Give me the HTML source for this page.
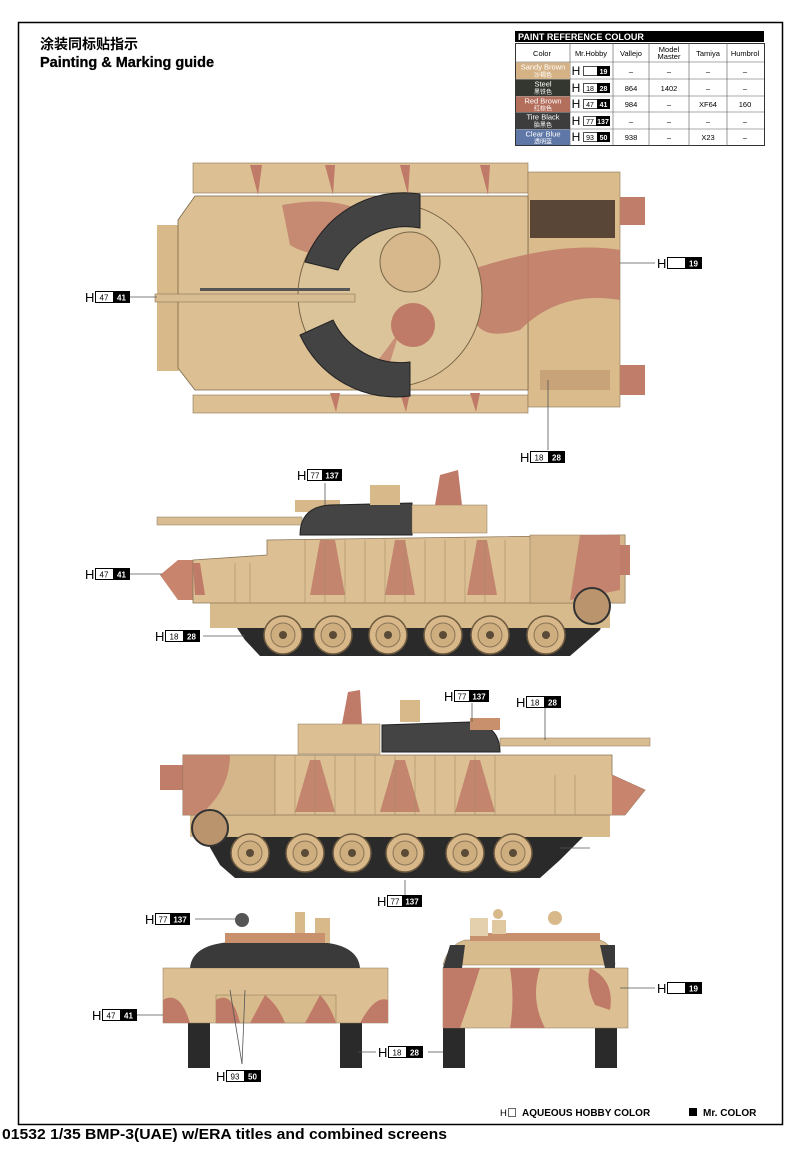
<!DOCTYPE html>
<html><head><meta charset="utf-8"><style>
body{margin:0;background:#fff;width:800px;height:1145px;overflow:hidden;font-family:"Liberation Sans","Noto Sans CJK SC",sans-serif}
svg text{font-family:"Liberation Sans","Noto Sans CJK SC",sans-serif}
</style></head><body>
<svg width="800" height="1145" viewBox="0 0 800 1145" xmlns="http://www.w3.org/2000/svg">
<defs>
<g id="whl"><circle r="19" fill="#d8b888" stroke="#6d5a40" stroke-width="1.5"/><circle r="12" fill="#ceae7e" stroke="#8a7458"/><circle r="4" fill="#5a4a38"/></g>
</defs>
<rect x="18.5" y="22.5" width="764" height="1102" fill="none" stroke="#000" stroke-width="1.5"/>
<text x="40" y="49" font-size="14" font-weight="bold">涂装同标贴指示</text>
<text x="40" y="67" font-size="14.5" font-weight="bold" stroke="#000" stroke-width=".3">Painting &amp; Marking guide</text>

<!-- table -->
<g font-size="7.5" text-anchor="middle">
<rect x="515" y="31" width="249" height="11" fill="#000"/>
<text x="518" y="40" font-size="9" font-weight="bold" fill="#fff" text-anchor="start">PAINT  REFERENCE COLOUR</text>
<rect x="515.5" y="43.5" width="249" height="102" fill="#fff" stroke="#333"/>
<g stroke="#555" stroke-width=".6">
<line x1="570" y1="43" x2="570" y2="146"/><line x1="613" y1="43" x2="613" y2="146"/><line x1="649" y1="43" x2="649" y2="146"/><line x1="689" y1="43" x2="689" y2="146"/><line x1="727" y1="43" x2="727" y2="146"/>
<line x1="515" y1="62" x2="764" y2="62"/><line x1="515" y1="79" x2="764" y2="79"/><line x1="515" y1="96" x2="764" y2="96"/><line x1="515" y1="112" x2="764" y2="112"/><line x1="515" y1="129" x2="764" y2="129"/>
</g>
<text x="542" y="56">Color</text><text x="591" y="56">Mr.Hobby</text><text x="631" y="56">Vallejo</text><text x="669" y="52">Model</text><text x="669" y="59">Master</text><text x="708" y="56">Tamiya</text><text x="745" y="56">Humbrol</text>
<rect x="516" y="62.5" width="54" height="16.5" fill="#d5b286"/><text x="543" y="69.5" fill="#fff">Sandy Brown</text><text x="543" y="77" font-size="6" fill="#fff">沙褐色</text>
<rect x="516" y="79.5" width="54" height="16.5" fill="#34372f"/><text x="543" y="86.5" fill="#fff">Steel</text><text x="543" y="94" font-size="6" fill="#fff">黑铁色</text>
<rect x="516" y="96.5" width="54" height="15.5" fill="#b36e5c"/><text x="543" y="103.5" fill="#fff">Red Brown</text><text x="543" y="110.5" font-size="6" fill="#fff">红棕色</text>
<rect x="516" y="112.5" width="54" height="16.5" fill="#3d3d3d"/><text x="543" y="119.5" fill="#fff">Tire Black</text><text x="543" y="127" font-size="6" fill="#fff">胎黑色</text>
<rect x="516" y="129.5" width="54" height="15.5" fill="#5e77a6"/><text x="543" y="136.5" fill="#fff">Clear Blue</text><text x="543" y="143.5" font-size="6" fill="#fff">透明蓝</text>
<text x="631" y="91">864</text><text x="669" y="91">1402</text><text x="708" y="91">–</text><text x="745" y="91">–</text>
<text x="631" y="107">984</text><text x="669" y="107">–</text><text x="708" y="107">XF64</text><text x="745" y="107">160</text>
<text x="631" y="74">–</text><text x="669" y="74">–</text><text x="708" y="74">–</text><text x="745" y="74">–</text>
<text x="631" y="124">–</text><text x="669" y="124">–</text><text x="708" y="124">–</text><text x="745" y="124">–</text>
<text x="631" y="140">938</text><text x="669" y="140">–</text><text x="708" y="140">X23</text><text x="745" y="140">–</text>
<!-- Mr.Hobby cells -->
<g transform="translate(572,65)"><text x="4" y="10" font-size="12">H</text><rect x="11.5" y="1.5" width="26" height="9" fill="#fff" stroke="#000" stroke-width=".7"/><rect x="25" y="1" width="13" height="10" fill="#000"/><text x="31.5" y="9" font-size="7" fill="#fff" font-weight="bold">19</text></g>
<g transform="translate(572,82)"><text x="4" y="10" font-size="12">H</text><rect x="11.5" y="1.5" width="26" height="9" fill="#fff" stroke="#000" stroke-width=".7"/><rect x="25" y="1" width="13" height="10" fill="#000"/><text x="18" y="9" font-size="7">18</text><text x="31.5" y="9" font-size="7" fill="#fff" font-weight="bold">28</text></g>
<g transform="translate(572,98)"><text x="4" y="10" font-size="12">H</text><rect x="11.5" y="1.5" width="26" height="9" fill="#fff" stroke="#000" stroke-width=".7"/><rect x="25" y="1" width="13" height="10" fill="#000"/><text x="18" y="9" font-size="7">47</text><text x="31.5" y="9" font-size="7" fill="#fff" font-weight="bold">41</text></g>
<g transform="translate(572,115)"><text x="4" y="10" font-size="12">H</text><rect x="11.5" y="1.5" width="26" height="9" fill="#fff" stroke="#000" stroke-width=".7"/><rect x="24" y="1" width="14" height="10" fill="#000"/><text x="18" y="9" font-size="7">77</text><text x="31" y="9" font-size="7" fill="#fff" font-weight="bold">137</text></g>
<g transform="translate(572,131)"><text x="4" y="10" font-size="12">H</text><rect x="11.5" y="1.5" width="26" height="9" fill="#fff" stroke="#000" stroke-width=".7"/><rect x="25" y="1" width="13" height="10" fill="#000"/><text x="18" y="9" font-size="7">93</text><text x="31.5" y="9" font-size="7" fill="#fff" font-weight="bold">50</text></g>
</g>

<!-- TOP VIEW -->
<g>
<rect x="193" y="163" width="335" height="30" fill="#dcbf92" stroke="#8a7458" stroke-width=".6"/>
<rect x="193" y="395" width="335" height="18" fill="#dcbf92" stroke="#8a7458" stroke-width=".6"/>
<rect x="528" y="172" width="92" height="235" fill="#d9bb8c" stroke="#8a7458" stroke-width=".6"/>
<rect x="157" y="225" width="22" height="146" fill="#d8b98a"/>
<polygon points="178,220 195,196 528,196 528,390 195,390 178,368" fill="#dcc094" stroke="#7a6648" stroke-width=".8"/>
<rect x="620" y="197" width="25" height="28" fill="#c07e6a"/><rect x="620" y="365" width="25" height="30" fill="#c07e6a"/>
<rect x="530" y="200" width="85" height="38" fill="#5a4636"/>
<path d="M282,205 Q330,196 360,210 L350,260 Q305,255 290,245Z" fill="#c07a68" opacity=".8"/>
<path d="M470,270 Q560,240 620,250 L620,300 Q560,290 520,330 Q470,345 470,300Z" fill="#c07a68" opacity=".85"/>
<path d="M250,165 L262,165 L258,195Z M325,165 L335,165 L333,195Z M400,165 L410,165 L408,195Z M480,165 L490,165 L488,195Z" fill="#c07a68"/>
<path d="M330,393 L340,393 L336,412Z M400,393 L410,393 L406,412Z M470,393 L480,393 L476,412Z" fill="#c07a68"/>
<circle cx="390" cy="295" r="92" fill="#dcc49a" stroke="#7a6648"/>
<circle cx="410" cy="262" r="30" fill="#d6b88c" stroke="#7a6648"/>
<circle cx="413" cy="325" r="22" fill="#c07a68"/>
<path d="M390,295 L400,330 Q380,360 360,380 L380,395 L400,330Z" fill="#c07a68" opacity=".7"/>
<path d="M305,262 A105,105 0 0 1 420,194 L420,228 A75,75 0 0 0 338,270Z" fill="#434343" stroke="#222"/>
<path d="M300,335 A105,105 0 0 0 410,396 L410,362 A75,75 0 0 1 333,320Z" fill="#434343" stroke="#222"/>
<rect x="155" y="294" width="200" height="8" fill="#d8bd92" stroke="#8a7458" stroke-width=".6"/>
<rect x="200" y="288" width="150" height="3" fill="#555"/>
<rect x="540" y="370" width="70" height="20" fill="#c8a37a"/>
</g>

<!-- SIDE VIEW 1 -->
<g>
<path d="M225,610 L245,640 L260,656 L570,656 L600,630 L610,600 L225,600Z" fill="#2a2a2a"/>
<rect x="210" y="598" width="400" height="30" fill="#d8bb8c"/>
<polygon points="160,575 178,560 195,560 195,600 178,600" fill="#c8846d"/>
<polygon points="193,560 267,555 267,540 625,535 625,603 193,603" fill="#dcc094" stroke="#8a7458" stroke-width=".8"/>
<rect x="530" y="535" width="95" height="68" fill="#d5b68a" stroke="#8a7458" stroke-width=".5"/>
<rect x="620" y="545" width="10" height="30" fill="#c07e6a"/>
<path d="M320,540 L335,540 L345,595 L310,595Z M395,540 L405,540 L415,595 L385,595Z M477,540 L487,540 L497,595 L467,595Z M580,535 L620,535 L620,590 L570,600Z" fill="#c07a68" opacity=".85"/>
<path d="M193,563 L200,563 L205,595 L195,595Z" fill="#c07a68"/>
<g stroke="#a58a64" stroke-width=".6"><line x1="305" y1="540" x2="305" y2="603"/><line x1="325" y1="540" x2="325" y2="603"/><line x1="345" y1="540" x2="345" y2="603"/><line x1="365" y1="540" x2="365" y2="603"/><line x1="385" y1="540" x2="385" y2="603"/><line x1="405" y1="540" x2="405" y2="603"/><line x1="425" y1="540" x2="425" y2="603"/><line x1="445" y1="540" x2="445" y2="603"/><line x1="465" y1="540" x2="465" y2="603"/><line x1="485" y1="540" x2="485" y2="603"/><line x1="505" y1="540" x2="505" y2="603"/><line x1="235" y1="563" x2="235" y2="603"/><line x1="250" y1="563" x2="250" y2="603"/></g>
<rect x="157" y="517" width="145" height="8" fill="#d8bd92" stroke="#8a7458" stroke-width=".5"/>
<rect x="295" y="500" width="45" height="12" fill="#d6b88a"/>
<path d="M300,535 Q300,507 330,505 L412,503 L412,535Z" fill="#444" stroke="#222"/>
<rect x="412" y="505" width="75" height="28" fill="#dcc094" stroke="#8a7458" stroke-width=".5"/>
<rect x="370" y="485" width="30" height="20" fill="#d8b98a"/>
<polygon points="435,505 440,475 458,470 462,505" fill="#c07a68"/>
<g transform="translate(283,635)"><use href="#whl"/></g><g transform="translate(333,635)"><use href="#whl"/></g><g transform="translate(388,635)"><use href="#whl"/></g><g transform="translate(443,635)"><use href="#whl"/></g><g transform="translate(490,635)"><use href="#whl"/></g><g transform="translate(546,635)"><use href="#whl"/></g>
<circle cx="592" cy="606" r="18" fill="#b9946c" stroke="#333" stroke-width="2"/>
</g>

<!-- SIDE VIEW 2 -->
<g>
<path d="M200,830 L220,865 L235,878 L540,878 L560,860 L590,830Z" fill="#2a2a2a"/>
<rect x="190" y="812" width="420" height="25" fill="#d8bb8c"/>
<rect x="160" y="765" width="25" height="25" fill="#c07e6a"/>
<polygon points="183,755 612,755 612,775 645,790 625,815 183,815" fill="#dcc094" stroke="#8a7458" stroke-width=".8"/>
<polygon points="612,775 645,790 625,815 612,815" fill="#c8846d"/>
<rect x="183" y="755" width="92" height="60" fill="#d5b68a" stroke="#8a7458" stroke-width=".5"/>
<path d="M183,755 L230,755 Q230,790 200,815 L183,815Z" fill="#c07a68" opacity=".8"/>
<path d="M310,760 L320,760 L335,812 L295,812Z M395,760 L405,760 L420,812 L380,812Z M470,760 L480,760 L495,812 L455,812Z" fill="#c07a68" opacity=".85"/>
<g stroke="#a58a64" stroke-width=".6"><line x1="295" y1="755" x2="295" y2="815"/><line x1="315" y1="755" x2="315" y2="815"/><line x1="335" y1="755" x2="335" y2="815"/><line x1="355" y1="755" x2="355" y2="815"/><line x1="375" y1="755" x2="375" y2="815"/><line x1="395" y1="755" x2="395" y2="815"/><line x1="415" y1="755" x2="415" y2="815"/><line x1="435" y1="755" x2="435" y2="815"/><line x1="455" y1="755" x2="455" y2="815"/><line x1="475" y1="755" x2="475" y2="815"/><line x1="495" y1="755" x2="495" y2="815"/><line x1="555" y1="775" x2="555" y2="815"/><line x1="575" y1="775" x2="575" y2="815"/></g>
<rect x="298" y="724" width="82" height="30" fill="#dcc094" stroke="#8a7458" stroke-width=".5"/>
<polygon points="342,724 348,692 360,690 362,724" fill="#c07a68"/>
<path d="M382,752 L382,725 L470,722 Q500,725 500,752Z" fill="#444" stroke="#222"/>
<rect x="500" y="738" width="150" height="8" fill="#d8bd92" stroke="#8a7458" stroke-width=".5"/>
<rect x="470" y="718" width="30" height="12" fill="#c8906c"/>
<rect x="400" y="700" width="20" height="22" fill="#d8b98a"/>
<g transform="translate(250,853)"><use href="#whl"/></g><g transform="translate(305,853)"><use href="#whl"/></g><g transform="translate(352,853)"><use href="#whl"/></g><g transform="translate(405,853)"><use href="#whl"/></g><g transform="translate(465,853)"><use href="#whl"/></g><g transform="translate(513,853)"><use href="#whl"/></g>
<circle cx="210" cy="828" r="18" fill="#b9946c" stroke="#333" stroke-width="2"/>
</g>

<!-- FRONT VIEW -->
<g>
<rect x="188" y="1020" width="22" height="48" fill="#2a2a2a"/><rect x="340" y="1020" width="22" height="48" fill="#2a2a2a"/>
<rect x="163" y="968" width="225" height="55" fill="#dcc094" stroke="#8a7458" stroke-width=".5"/>
<rect x="216" y="995" width="120" height="28" fill="#d8bb8c" stroke="#8a7458" stroke-width=".5"/>
<path d="M163,1000 Q180,990 190,1023 L163,1023Z M216,1000 Q232,990 240,1023 L216,1023Z M265,995 Q278,1005 285,1023 L250,1023Z M320,995 Q330,1005 336,1023 L305,1023Z M388,1000 L388,1023 L360,1023 Q375,995 388,1000Z" fill="#c07a68"/>
<path d="M190,968 Q192,945 230,942 L320,942 Q358,945 360,968Z" fill="#3a3a3a"/>
<circle cx="242" cy="920" r="7" fill="#555"/><rect x="295" y="912" width="10" height="30" fill="#d8b98a"/><rect x="315" y="918" width="15" height="25" fill="#d8b98a"/>
<rect x="225" y="933" width="100" height="10" fill="#c8906c"/>
</g>
<!-- REAR VIEW -->
<g>
<rect x="443" y="1020" width="22" height="48" fill="#2a2a2a"/><rect x="595" y="1020" width="22" height="48" fill="#2a2a2a"/>
<rect x="443" y="968" width="185" height="60" fill="#dcc094" stroke="#8a7458" stroke-width=".5"/>
<path d="M443,968 L480,968 Q470,1000 460,1028 L443,1028Z M510,968 L540,968 Q530,1000 545,1028 L510,1028 Q515,1000 510,968Z M590,968 Q615,980 610,1010 L595,1005 Q585,985 590,968Z" fill="#c07a68"/>
<path d="M443,965 Q448,945 465,940 L600,940 Q615,945 615,965Z" fill="#d8bb8c" stroke="#8a7458" stroke-width=".5"/>
<path d="M443,968 L450,945 L465,945 L462,968Z M600,945 L615,945 L615,968 L605,968Z" fill="#3a3a3a"/>
<rect x="470" y="933" width="130" height="8" fill="#c8906c"/>
<rect x="470" y="918" width="18" height="18" fill="#e4d0ac"/><circle cx="498" cy="914" r="5" fill="#d8b98a"/><rect x="492" y="920" width="14" height="14" fill="#e0c9a0"/><circle cx="555" cy="918" r="7" fill="#d8b98a"/>
</g>

<!-- leader lines -->
<g stroke="#555" stroke-width=".8">
<line x1="130" y1="297" x2="157" y2="297"/>
<line x1="620" y1="263" x2="655" y2="263"/>
<line x1="548" y1="380" x2="548" y2="450"/>
<line x1="325" y1="483" x2="325" y2="505"/>
<line x1="130" y1="574" x2="162" y2="574"/>
<line x1="203" y1="636" x2="245" y2="636"/>
<line x1="472" y1="703" x2="472" y2="722"/>
<line x1="545" y1="708" x2="545" y2="740"/>
<line x1="405" y1="880" x2="405" y2="895"/>
<line x1="560" y1="848" x2="590" y2="848"/>
<line x1="195" y1="919" x2="237" y2="919"/>
<line x1="137" y1="1015" x2="163" y2="1015"/>
<line x1="242" y1="1064" x2="230" y2="990"/><line x1="242" y1="1064" x2="245" y2="990"/>
<line x1="358" y1="1052" x2="376" y2="1052"/><line x1="428" y1="1052" x2="443" y2="1052"/>
<line x1="620" y1="988" x2="655" y2="988"/>
</g>

<!-- labels -->
<g font-weight="bold">
<g transform="translate(85,291)"><text x="0" y="11" font-size="13" font-weight="normal">H</text><rect x="10.5" y=".5" width="34" height="11" fill="#fff" stroke="#000"/><rect x="28" y="0" width="17" height="12" fill="#000"/><text x="19" y="9.5" font-size="8" font-weight="normal" text-anchor="middle">47</text><text x="36.5" y="9.5" font-size="8" fill="#fff" text-anchor="middle">41</text></g>
<g transform="translate(657,257)"><text x="0" y="11" font-size="13" font-weight="normal">H</text><rect x="10.5" y=".5" width="34" height="11" fill="#fff" stroke="#000"/><rect x="28" y="0" width="17" height="12" fill="#000"/><text x="36.5" y="9.5" font-size="8" fill="#fff" text-anchor="middle">19</text></g>
<g transform="translate(520,451)"><text x="0" y="11" font-size="13" font-weight="normal">H</text><rect x="10.5" y=".5" width="34" height="11" fill="#fff" stroke="#000"/><rect x="28" y="0" width="17" height="12" fill="#000"/><text x="19" y="9.5" font-size="8" font-weight="normal" text-anchor="middle">18</text><text x="36.5" y="9.5" font-size="8" fill="#fff" text-anchor="middle">28</text></g>
<g transform="translate(297,469)"><text x="0" y="11" font-size="13" font-weight="normal">H</text><rect x="10.5" y=".5" width="34" height="11" fill="#fff" stroke="#000"/><rect x="25" y="0" width="20" height="12" fill="#000"/><text x="18" y="9.5" font-size="8" font-weight="normal" text-anchor="middle">77</text><text x="35" y="9.5" font-size="8" fill="#fff" text-anchor="middle">137</text></g>
<g transform="translate(85,568)"><text x="0" y="11" font-size="13" font-weight="normal">H</text><rect x="10.5" y=".5" width="34" height="11" fill="#fff" stroke="#000"/><rect x="28" y="0" width="17" height="12" fill="#000"/><text x="19" y="9.5" font-size="8" font-weight="normal" text-anchor="middle">47</text><text x="36.5" y="9.5" font-size="8" fill="#fff" text-anchor="middle">41</text></g>
<g transform="translate(155,630)"><text x="0" y="11" font-size="13" font-weight="normal">H</text><rect x="10.5" y=".5" width="34" height="11" fill="#fff" stroke="#000"/><rect x="28" y="0" width="17" height="12" fill="#000"/><text x="19" y="9.5" font-size="8" font-weight="normal" text-anchor="middle">18</text><text x="36.5" y="9.5" font-size="8" fill="#fff" text-anchor="middle">28</text></g>
<g transform="translate(444,690)"><text x="0" y="11" font-size="13" font-weight="normal">H</text><rect x="10.5" y=".5" width="34" height="11" fill="#fff" stroke="#000"/><rect x="25" y="0" width="20" height="12" fill="#000"/><text x="18" y="9.5" font-size="8" font-weight="normal" text-anchor="middle">77</text><text x="35" y="9.5" font-size="8" fill="#fff" text-anchor="middle">137</text></g>
<g transform="translate(516,696)"><text x="0" y="11" font-size="13" font-weight="normal">H</text><rect x="10.5" y=".5" width="34" height="11" fill="#fff" stroke="#000"/><rect x="28" y="0" width="17" height="12" fill="#000"/><text x="19" y="9.5" font-size="8" font-weight="normal" text-anchor="middle">18</text><text x="36.5" y="9.5" font-size="8" fill="#fff" text-anchor="middle">28</text></g>
<g transform="translate(377,895)"><text x="0" y="11" font-size="13" font-weight="normal">H</text><rect x="10.5" y=".5" width="34" height="11" fill="#fff" stroke="#000"/><rect x="25" y="0" width="20" height="12" fill="#000"/><text x="18" y="9.5" font-size="8" font-weight="normal" text-anchor="middle">77</text><text x="35" y="9.5" font-size="8" fill="#fff" text-anchor="middle">137</text></g>
<g transform="translate(145,913)"><text x="0" y="11" font-size="13" font-weight="normal">H</text><rect x="10.5" y=".5" width="34" height="11" fill="#fff" stroke="#000"/><rect x="25" y="0" width="20" height="12" fill="#000"/><text x="18" y="9.5" font-size="8" font-weight="normal" text-anchor="middle">77</text><text x="35" y="9.5" font-size="8" fill="#fff" text-anchor="middle">137</text></g>
<g transform="translate(92,1009)"><text x="0" y="11" font-size="13" font-weight="normal">H</text><rect x="10.5" y=".5" width="34" height="11" fill="#fff" stroke="#000"/><rect x="28" y="0" width="17" height="12" fill="#000"/><text x="19" y="9.5" font-size="8" font-weight="normal" text-anchor="middle">47</text><text x="36.5" y="9.5" font-size="8" fill="#fff" text-anchor="middle">41</text></g>
<g transform="translate(216,1070)"><text x="0" y="11" font-size="13" font-weight="normal">H</text><rect x="10.5" y=".5" width="34" height="11" fill="#fff" stroke="#000"/><rect x="28" y="0" width="17" height="12" fill="#000"/><text x="19" y="9.5" font-size="8" font-weight="normal" text-anchor="middle">93</text><text x="36.5" y="9.5" font-size="8" fill="#fff" text-anchor="middle">50</text></g>
<g transform="translate(378,1046)"><text x="0" y="11" font-size="13" font-weight="normal">H</text><rect x="10.5" y=".5" width="34" height="11" fill="#fff" stroke="#000"/><rect x="28" y="0" width="17" height="12" fill="#000"/><text x="19" y="9.5" font-size="8" font-weight="normal" text-anchor="middle">18</text><text x="36.5" y="9.5" font-size="8" fill="#fff" text-anchor="middle">28</text></g>
<g transform="translate(657,982)"><text x="0" y="11" font-size="13" font-weight="normal">H</text><rect x="10.5" y=".5" width="34" height="11" fill="#fff" stroke="#000"/><rect x="28" y="0" width="17" height="12" fill="#000"/><text x="36.5" y="9.5" font-size="8" fill="#fff" text-anchor="middle">19</text></g>
</g>

<!-- footer -->
<text x="500" y="1116" font-size="9.5">H</text><rect x="508.5" y="1108.5" width="7" height="8" fill="#fff" stroke="#000" stroke-width=".6"/>
<text x="522" y="1116" font-size="10" font-weight="bold">AQUEOUS HOBBY COLOR</text>
<rect x="689" y="1108" width="8" height="8" fill="#000"/>
<text x="703" y="1116" font-size="10" font-weight="bold">Mr. COLOR</text>
<text x="2" y="1139" font-size="15" font-weight="bold" textLength="445" lengthAdjust="spacingAndGlyphs">01532 1/35  BMP-3(UAE) w/ERA titles and combined screens</text>
</svg>
</body></html>
